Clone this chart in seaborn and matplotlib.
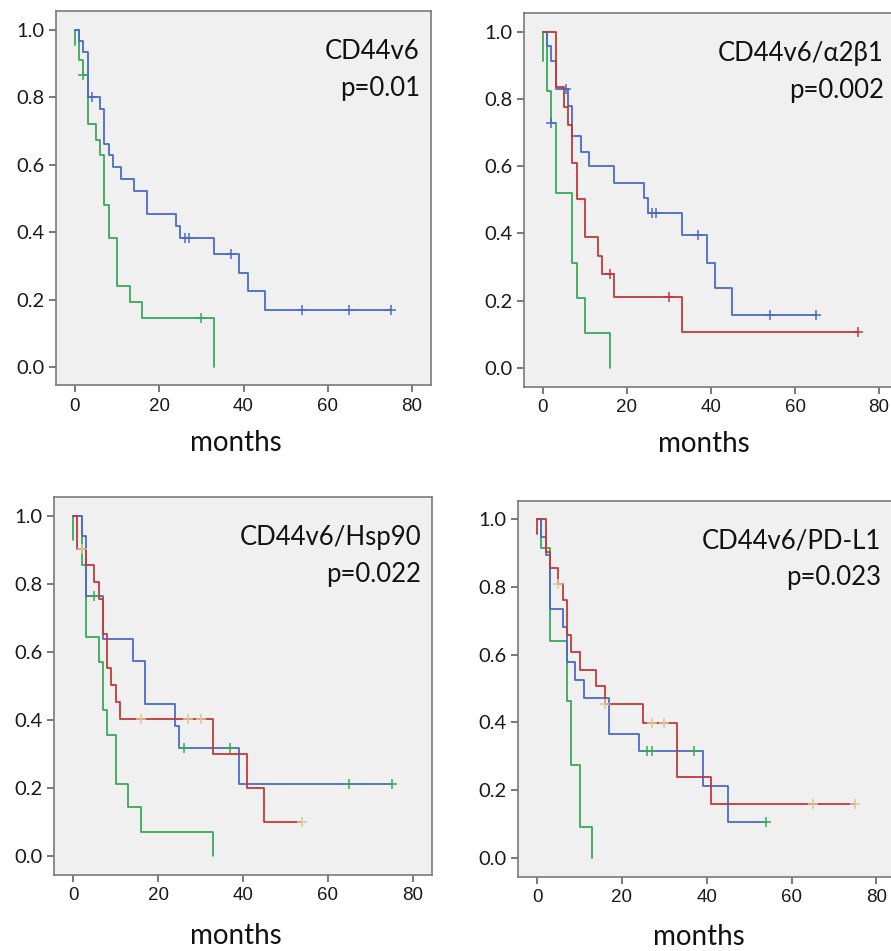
import numpy as np
import pandas as pd
import matplotlib
matplotlib.use('Agg')
import matplotlib.pyplot as plt
import seaborn as sns

sns.set_style('white')
plt.rcParams['font.family'] = ['Lato', 'DejaVu Sans']

# --- data (months, survival after each drop) ---
BLUE, GREEN, RED, TAN = '#4a6bc6', '#3aa85c', '#c3393a', '#d8c690'

titles = ['CD44v6', 'CD44v6/α2β1', 'CD44v6/Hsp90', 'CD44v6/PD-L1']
pvalues = ['p=0.01', 'p=0.002', 'p=0.022', 'p=0.023']

# panel 1
p1_blue_t = [1, 2, 3, 6, 7, 8, 9, 11, 14, 17, 24, 25, 33, 39, 41, 45]
p1_blue_s = [0.967, 0.935, 0.80, 0.767, 0.662, 0.629, 0.594, 0.557, 0.522, 0.455,
             0.418, 0.383, 0.336, 0.280, 0.224, 0.168]
p1_blue_c = [4, 26, 27, 37, 54, 65, 75]
p1_green_t = [1, 2, 3, 5, 6, 7, 8, 10, 13, 16, 33]
p1_green_s = [0.91, 0.866, 0.72, 0.674, 0.629, 0.481, 0.384, 0.240, 0.193, 0.144, 0.0]
p1_green_c = [2, 30]

# panel 2
p2_blue_t = [1, 2, 3, 6, 7, 9, 11, 17, 24, 25, 33, 39, 41, 45]
p2_blue_s = [0.957, 0.913, 0.829, 0.78, 0.688, 0.641, 0.599, 0.551, 0.505, 0.46,
             0.394, 0.312, 0.238, 0.158]
p2_blue_c = [5.5, 26, 27, 37, 54, 65]
p2_red_t = [3, 5, 6, 7, 8, 10, 13, 14, 17, 33]
p2_red_s = [0.835, 0.776, 0.723, 0.61, 0.501, 0.389, 0.334, 0.278, 0.21, 0.106]
p2_red_c = [16, 30, 75]
p2_green_t = [1, 2, 3, 7, 8, 10, 16]
p2_green_s = [0.822, 0.727, 0.52, 0.312, 0.208, 0.104, 0.0]
p2_green_c = [2]

# panel 3
p3_blue_t = [2, 3, 7, 14, 17, 24, 25, 39]
p3_blue_s = [0.941, 0.763, 0.638, 0.572, 0.447, 0.382, 0.318, 0.212]
p3_blue_c = [5, 26, 37, 65, 75]
p3_red_t = [1, 3, 5, 6, 7, 8, 9, 10, 11, 33, 41, 45]
p3_red_s = [0.903, 0.854, 0.804, 0.755, 0.653, 0.553, 0.502, 0.453, 0.403, 0.301,
            0.201, 0.101]
p3_red_c = [2, 16, 27, 30, 54]
p3_green_t = [2, 3, 6, 7, 8, 10, 13, 16, 33]
p3_green_s = [0.856, 0.644, 0.571, 0.429, 0.357, 0.213, 0.145, 0.072, 0.0]

# panel 4
p4_blue_t = [1, 2, 3, 6, 7, 9, 11, 17, 24, 39, 45]
p4_blue_s = [0.947, 0.895, 0.735, 0.683, 0.578, 0.526, 0.472, 0.367, 0.315, 0.211, 0.105]
p4_blue_c = [26, 27, 37, 54]
p4_red_t = [2, 3, 5, 6, 7, 8, 10, 14, 16, 25, 33, 41]
p4_red_s = [0.904, 0.855, 0.809, 0.76, 0.659, 0.607, 0.555, 0.506, 0.455, 0.398,
            0.239, 0.159]
p4_red_c = [5, 16, 27, 30, 65, 75]
p4_green_t = [1, 3, 7, 8, 10, 13]
p4_green_s = [0.916, 0.641, 0.462, 0.273, 0.091, 0.0]

# (times, survival, censored times, line colour, censor colour, stub at t=0)
panels = [
    [(p1_green_t, p1_green_s, p1_green_c, GREEN, GREEN, 0.955),
     (p1_blue_t, p1_blue_s, p1_blue_c, BLUE, BLUE, None)],
    [(p2_green_t, p2_green_s, p2_green_c, GREEN, BLUE, 0.911),
     (p2_blue_t, p2_blue_s, p2_blue_c, BLUE, BLUE, None),
     (p2_red_t, p2_red_s, p2_red_c, RED, RED, None)],
    [(p3_green_t, p3_green_s, [], GREEN, GREEN, 0.93),
     (p3_blue_t, p3_blue_s, p3_blue_c, BLUE, GREEN, None),
     (p3_red_t, p3_red_s, p3_red_c, RED, TAN, None)],
    [(p4_green_t, p4_green_s, [], GREEN, GREEN, None),
     (p4_blue_t, p4_blue_s, p4_blue_c, BLUE, GREEN, None),
     (p4_red_t, p4_red_s, p4_red_c, RED, TAN, 0.956)],
]

# axes boxes in pixels: left, top, width, height
boxes = [(56, 11.5, 375, 374), (524, 13, 374, 373.5),
         (54, 497, 378, 378), (518, 500.5, 377.5, 376)]

W, H = 891, 951


def surv_at(t, times, surv):
    v = 1.0
    for ti, si in zip(times, surv):
        if ti <= t:
            v = si
    return v


fig = plt.figure(figsize=(W / 100, H / 100), dpi=100)
fig.patch.set_facecolor('white')

for i, (curves, box) in enumerate(zip(panels, boxes)):
    l, t, w, h = box
    ax = fig.add_axes([l / W, 1 - (t + h) / H, w / W, h / H])
    ax.set_facecolor('#f0f0f0')

    for times, surv, cens, col, ccol, stub in curves:
        end = max(times[-1], max(cens) if cens else 0)
        xs = [0] + list(times) + [end]
        ys = [1.0] + list(surv) + [surv[-1]]
        df = pd.DataFrame({'months': xs, 'surv': ys})
        sns.lineplot(data=df, x='months', y='surv', drawstyle='steps-post',
                     estimator=None, sort=False, color=col, lw=1.3, ax=ax)
        if stub is not None:
            sns.lineplot(x=[0, 0], y=[1.0, stub], estimator=None, sort=False,
                         color=col, lw=1.3, ax=ax)
        if cens:
            cy = [surv_at(c, times, surv) for c in cens]
            sns.scatterplot(x=cens, y=cy, marker='+', s=45, linewidth=1.1,
                            color=ccol, ax=ax, zorder=5)

    ax.set_xlim(-4.5, 84.5)
    ax.set_ylim(-0.055, 1.055)
    ax.set_xticks([0, 20, 40, 60, 80])
    ax.set_yticks([0.0, 0.2, 0.4, 0.6, 0.8, 1.0])
    ax.set_yticklabels(['0.0', '0.2', '0.4', '0.6', '0.8', '1.0'], fontsize=14.5,
                       fontfamily=['Lato', 'DejaVu Sans'])
    ax.set_xticklabels(['0', '20', '40', '60', '80'], fontsize=13.5,
                       fontfamily=['Liberation Sans', 'DejaVu Sans'])
    ax.tick_params(axis='both', direction='out', length=5, width=1.1,
                   color='#555555', labelcolor='#1a1a1a', pad=3, left=True, bottom=True)
    ax.tick_params(axis='x', pad=4)
    for sp in ax.spines.values():
        sp.set_color('#7a7a7a')
        sp.set_linewidth(1.2)
    ax.set_ylabel('')
    ax.set_xlabel('months', fontsize=20, color='#111111')
    ax.xaxis.set_label_coords(0.48, -0.118 if i < 2 else -0.127)

    ax.annotate(titles[i], xy=(1, 1), xycoords='axes fraction',
                xytext=(-11 if i % 2 == 0 else -14, -48), textcoords='offset pixels',
                ha='right', va='baseline', fontsize=18.5, color='#111111',
                fontfamily=['Lato', 'DejaVu Sans'])
    ax.annotate(pvalues[i], xy=(1, 1), xycoords='axes fraction',
                xytext=(-11 if i % 2 == 0 else -14, -85), textcoords='offset pixels',
                ha='right', va='baseline', fontsize=18.5, color='#111111',
                fontfamily=['Lato', 'DejaVu Sans'])

fig.savefig('out.png', dpi=100)
